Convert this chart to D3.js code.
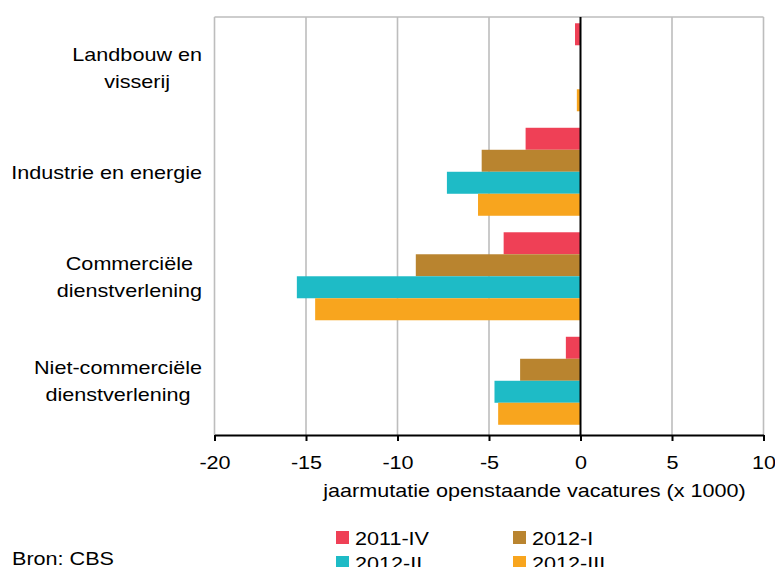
<!DOCTYPE html>
<html>
<head>
<meta charset="utf-8">
<script src="https://cdn.jsdelivr.net/npm/d3@7"></script>
<style>
  html, body { margin: 0; padding: 0; background: #fff; }
  svg { display: block; }
  text { font-family: "Liberation Sans", Arial, sans-serif; fill: #000; }
</style>
</head>
<body>
<svg id="chart" width="775" height="567"></svg>
<script>
// ---- data ----
const categories = ["Landbouw en visserij", "Industrie en energie", "Commerciële dienstverlening", "Niet-commerciële dienstverlening"];
const categoryLines = [["Landbouw en", "visserij"], ["Industrie en energie"], ["Commerciële", "dienstverlening"], ["Niet-commerciële", "dienstverlening"]];
const series = ["2011-IV", "2012-I", "2012-II", "2012-III"];
const values2011IV = [-0.3, -3.0, -4.2, -0.8];
const values2012I = [0, -5.4, -9.0, -3.3];
const values2012II = [0, -7.3, -15.5, -4.7];
const values2012III = [-0.2, -5.6, -14.5, -4.5];
const xTicks = [-20, -15, -10, -5, 0, 5, 10];
const xDomain = [-20, 10];
const axisTitle = "jaarmutatie openstaande vacatures (x 1000)";
const sourceText = "Bron: CBS";
const colors = ["#EF4056", "#B9842F", "#1EBBC6", "#F8A51E"];

const seriesValues = [values2011IV, values2012I, values2012II, values2012III];

// ---- layout ----
const FS = 18, SX = 1.2;
const svg = d3.select("#chart");
const pLeft = 214.5, pRight = 763.5, pTop = 17, pBottom = 435;

const x = d3.scaleLinear().domain(xDomain).range([pLeft, pRight]);
const y0 = d3.scaleBand().domain(categories).range([pTop, pBottom]);
const y1 = d3.scaleBand().domain(series).range([0, y0.bandwidth()]).paddingOuter(0.375).align(0.38);
const color = d3.scaleOrdinal().domain(series).range(colors);

function stext(g, str, px, py, anchor) {
  return g.append("text")
    .attr("transform", `translate(${px},${py}) scale(${SX},1)`)
    .attr("text-anchor", anchor || "start")
    .style("font-size", FS + "px")
    .text(str);
}

// gridlines
svg.append("g").selectAll("line")
  .data(xTicks.filter(t => t !== 0))
  .join("line")
  .attr("x1", d => x(d)).attr("x2", d => x(d))
  .attr("y1", pTop).attr("y2", pBottom)
  .attr("stroke", "#BDBDBD").attr("stroke-width", 1.6);

// top border
svg.append("line")
  .attr("x1", pLeft).attr("x2", pRight).attr("y1", pTop).attr("y2", pTop)
  .attr("stroke", "#BDBDBD").attr("stroke-width", 1.6);

// bars
const rows = [];
categories.forEach((c, i) => series.forEach((s, j) => rows.push({ c, s, v: seriesValues[j][i] })));
svg.append("g").selectAll("rect")
  .data(rows.filter(d => d.v !== 0))
  .join("rect")
  .attr("x", d => x(Math.min(0, d.v)))
  .attr("width", d => Math.abs(x(d.v) - x(0)))
  .attr("y", d => y0(d.c) + y1(d.s))
  .attr("height", y1.bandwidth())
  .attr("fill", d => color(d.s));

// zero line
svg.append("line")
  .attr("x1", x(0)).attr("x2", x(0)).attr("y1", pTop).attr("y2", pBottom)
  .attr("stroke", "#000").attr("stroke-width", 2);

// x axis
const xAxis = svg.append("g")
  .attr("transform", `translate(0,${pBottom})`)
  .call(d3.axisBottom(x).tickValues(xTicks).tickSize(6).tickSizeOuter(0).tickFormat(d3.format("d")));
xAxis.select(".domain").attr("stroke", "#000").attr("stroke-width", 2);
xAxis.selectAll(".tick line").attr("stroke", "#000").attr("stroke-width", 2);
xAxis.selectAll(".tick text")
  .attr("y", 34).attr("dy", null)
  .attr("transform", `scale(${SX},1)`)
  .style("font-size", FS + "px")
  .style("font-family", '"Liberation Sans", Arial, sans-serif')
  .attr("fill", "#000")
  .text(d => d < 0 ? "-" + Math.abs(d) : String(d));

// axis title
stext(svg, axisTitle, 534.5, 497, "middle");

// category labels (block right aligned, lines centered)
const labG = svg.append("g");
categories.forEach((c, i) => {
  const lines = categoryLines[i];
  const cy = y0(c) + y0.bandwidth() / 2 - 1.5;
  const lh = 27;
  const tmp = lines.map(l => stext(labG, l, 0, 0, "middle"));
  const maxW = d3.max(tmp, t => t.node().getComputedTextLength()) * SX;
  const cx = 202 - maxW / 2;
  tmp.forEach((t, k) => {
    const by = cy + (k - (lines.length - 1) / 2) * lh + 6.5;
    t.attr("transform", `translate(${cx},${by}) scale(${SX},1)`);
  });
});

// legend
const legPos = [[336, 531], [513, 531], [336, 556], [513, 556]];
series.forEach((s, j) => {
  const [lx, ly] = legPos[j];
  svg.append("rect").attr("x", lx).attr("y", ly).attr("width", 13).attr("height", 13).attr("fill", color(s));
  stext(svg, s, lx + 19, ly + 13.5, "start");
});

// source
stext(svg, sourceText, 12, 565, "start");
</script>
</body>
</html>
